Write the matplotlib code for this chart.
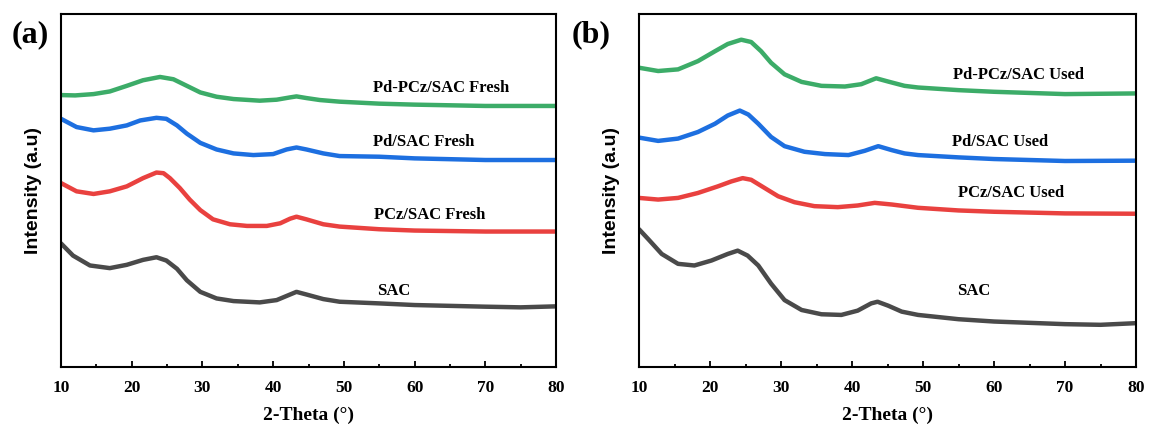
import numpy as np
import matplotlib
matplotlib.use("Agg")
import matplotlib.pyplot as plt
from matplotlib.ticker import MultipleLocator

plt.rcParams["font.family"] = ["Liberation Serif", "DejaVu Serif"]
plt.rcParams["font.weight"] = "bold"

# ---- panel (a): fresh samples, intensity in arbitrary units ----
xa_green = [10, 12, 14.6, 16.9, 19.3, 21.6, 24.0, 25.9, 27.8, 29.7, 32.0, 34.4, 38.1, 40.5, 42.4, 43.3, 44.7, 46.6, 49.4, 55, 60, 70, 80]
ya_green = [825, 824, 828, 836, 853, 870, 880, 873, 853, 833, 820, 813, 808, 811, 818, 821, 816, 810, 805, 799, 796, 792, 792]

xa_blue = [10, 12.2, 14.6, 16.9, 19.3, 21.2, 23.5, 24.9, 26.4, 27.8, 29.7, 32.0, 34.4, 37.2, 40.0, 41.9, 43.3, 44.7, 47.1, 49.4, 55, 60, 70, 80]
ya_blue = [753, 728, 718, 723, 733, 748, 756, 753, 733, 708, 680, 660, 648, 643, 646, 660, 666, 660, 648, 640, 638, 633, 628, 628]

xa_red = [10, 12.2, 14.6, 16.9, 19.3, 21.6, 23.5, 24.5, 25.4, 26.8, 28.2, 29.7, 31.5, 33.9, 36.3, 39.1, 41.0, 42.4, 43.3, 44.7, 47.1, 49.4, 55, 60, 70, 80]
ya_red = [558, 533, 525, 533, 548, 573, 590, 588, 573, 543, 508, 476, 448, 433, 428, 428, 436, 450, 456, 448, 433, 426, 418, 414, 411, 411]

xa_gray = [10, 11.7, 14.1, 16.9, 19.3, 21.6, 23.5, 24.9, 26.4, 27.8, 29.7, 32.0, 34.4, 38.1, 40.5, 42.4, 43.3, 44.7, 47.1, 49.4, 55, 60, 70, 75, 80]
ya_gray = [375, 338, 308, 300, 310, 325, 333, 323, 298, 263, 228, 208, 200, 196, 203, 220, 228, 220, 206, 198, 193, 188, 183, 181, 184]

# ---- panel (b): used samples ----
xb_green = [10, 12.7, 15.5, 18.3, 20.7, 22.5, 24.4, 25.8, 27.2, 28.6, 30.5, 32.9, 35.7, 39.0, 41.3, 43.4, 45.1, 47.4, 49.3, 55, 60, 70, 80]
yb_green = [908, 898, 903, 928, 958, 980, 993, 986, 958, 923, 888, 865, 853, 851, 858, 876, 866, 853, 848, 840, 835, 828, 830]

xb_blue = [10, 12.7, 15.5, 18.3, 20.7, 22.5, 24.2, 25.4, 26.8, 28.6, 30.5, 33.3, 36.2, 39.5, 41.8, 43.7, 45.6, 47.4, 49.3, 55, 60, 70, 80]
yb_blue = [696, 686, 693, 713, 738, 763, 778, 766, 738, 698, 670, 653, 646, 643, 656, 670, 658, 648, 643, 636, 631, 625, 626]

xb_red = [10, 12.7, 15.5, 18.3, 21.1, 23.0, 24.6, 25.8, 27.7, 29.6, 31.9, 34.7, 38.0, 40.8, 43.2, 45.6, 49.3, 55, 60, 70, 80]
yb_red = [513, 508, 513, 528, 548, 563, 573, 568, 543, 518, 500, 488, 485, 490, 498, 493, 483, 475, 471, 466, 465]

xb_gray = [10, 11.3, 13.2, 15.5, 17.8, 20.2, 22.5, 23.9, 25.3, 26.8, 28.6, 30.5, 32.9, 35.7, 38.5, 40.8, 42.7, 43.6, 45.1, 47.0, 49.3, 55, 60, 70, 75, 80]
yb_gray = [418, 388, 343, 313, 308, 323, 343, 353, 338, 308, 253, 203, 173, 160, 158, 171, 193, 198, 186, 168, 158, 145, 138, 130, 128, 133]

labels_a = ["Pd-PCz/SAC Fresh", "Pd/SAC Fresh", "PCz/SAC Fresh", "SAC"]
labels_b = ["Pd-PCz/SAC Used", "Pd/SAC Used", "PCz/SAC Used", "SAC"]
lab_xa = [54.1, 54.1, 54.3, 54.7]
lab_ya = [848, 683, 460, 231]
lab_xb = [54.2, 54.1, 54.9, 54.75]
lab_yb = [886, 683, 528, 231]

colors = ["#3cac68", "#1d6fe0", "#e9413f", "#4a4a4a"]

fig = plt.figure(figsize=(11.49, 4.28), dpi=100)
ax1 = fig.add_axes([61/1149, 61/428, 495/1149, 353/428])
ax2 = fig.add_axes([639/1149, 61/428, 497/1149, 353/428])

data_a = [(xa_green, ya_green), (xa_blue, ya_blue), (xa_red, ya_red), (xa_gray, ya_gray)]
data_b = [(xb_green, yb_green), (xb_blue, yb_blue), (xb_red, yb_red), (xb_gray, yb_gray)]

for ax, data, labs, lx, ly in [(ax1, data_a, labels_a, lab_xa, lab_ya),
                               (ax2, data_b, labels_b, lab_xb, lab_yb)]:
    for (x, y), c in zip(data, colors):
        ax.plot(x, y, color=c, lw=3.2, solid_joinstyle="round", solid_capstyle="round")
    for t, x, y in zip(labs, lx, ly):
        ax.text(x, y, t, fontsize=12, fontweight="bold", va="center", ha="left")
    ax.set_xlim(10, 80)
    ax.set_ylim(0, 1071)
    ax.set_yticks([])
    ax.xaxis.set_major_locator(MultipleLocator(10))
    ax.xaxis.set_minor_locator(MultipleLocator(5))
    ax.tick_params(axis="x", which="major", direction="in", length=4, width=1.3, pad=9, labelsize=12.5)
    ax.tick_params(axis="x", which="minor", direction="in", length=2.5, width=1.3)
    for s in ax.spines.values():
        s.set_linewidth(1.5)
    ax.set_xlabel("2-Theta (°)", fontsize=14, fontweight="bold", labelpad=8)
    ax.set_ylabel("Intensity (a.u)", fontsize=14, fontweight="bold",
                  family=["Liberation Sans", "DejaVu Sans"], labelpad=14)

fig.text(12/1149, 1 - 42/428, "(a)", fontsize=23, fontweight="bold", va="baseline")
fig.text(572/1149, 1 - 42/428, "(b)", fontsize=23, fontweight="bold", va="baseline")

fig.savefig("out.png", dpi=100)
